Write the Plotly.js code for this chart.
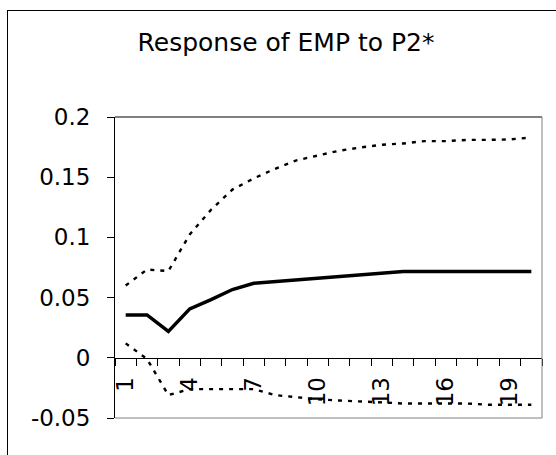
<!DOCTYPE html>
<html>
<head>
<meta charset="utf-8">
<script src="https://cdn.plot.ly/plotly-3.0.1.min.js"></script>
<style>
html, body { margin: 0; padding: 0; background: #fff; }
#wrap { position: relative; width: 556px; height: 455px; overflow: hidden; }
#chart { width: 556px; height: 455px; }
#frame { position: absolute; left: 7px; top: 10px; width: 600px; height: 500px;
         border-top: 1px solid #000; border-left: 1px solid #000; pointer-events: none; }
</style>
</head>
<body>
<div id="wrap">
  <div id="chart"></div>
  <div id="frame"></div>
</div>
<script>
// Data
var periods = [1,2,3,4,5,6,7,8,9,10,11,12,13,14,15,16,17,18,19,20];
var response = [0.0356,0.0356,0.0219,0.0406,0.0483,0.0567,0.0619,0.0633,0.0648,0.0662,
                0.0676,0.0694,0.0703,0.0717,0.0717,0.0717,0.0717,0.0717,0.0717,0.0717];
var upperBand = [0.060,0.0733,0.072,0.1025,0.123,0.1397,0.149,0.157,0.164,0.168,
                 0.172,0.1747,0.177,0.178,0.180,0.180,0.181,0.181,0.1814,0.183];
var lowerBand = [0.012,-0.001,-0.031,-0.026,-0.026,-0.026,-0.026,-0.031,-0.033,-0.0345,
                 -0.0355,-0.036,-0.037,-0.038,-0.038,-0.038,-0.038,-0.039,-0.039,-0.039];
var xTickVals = [1,4,7,10,13,16,19];
var xTickText = ['1','4','7','10','13','16','19'];
var yTickVals = [-0.05,0,0.05,0.1,0.15,0.2];
var yTickText = ['-0.05','0','0.05','0.1','0.15','0.2'];
var titleText = 'Response of EMP to P2*';

var yMin = -0.05, yMax = 0.2;
var font = 'DejaVu Sans, Arial, sans-serif';

var traces = [
  { x: periods, y: upperBand, mode: 'lines', line: { color: '#000', width: 2.4, dash: '4px,6px' }, hoverinfo: 'skip' },
  { x: periods, y: lowerBand, mode: 'lines', line: { color: '#000', width: 2.4, dash: '4px,6px' }, hoverinfo: 'skip' },
  { x: periods, y: response, mode: 'lines', line: { color: '#000', width: 3.5 }, hoverinfo: 'skip' }
];

var layout = {
  width: 556, height: 455,
  margin: { l: 115, r: 14, t: 117, b: 37, pad: 0 },
  paper_bgcolor: '#fff', plot_bgcolor: '#fff',
  showlegend: false,
  font: { family: font, color: '#000', size: 23 },
  title: { text: titleText, font: { family: font, size: 25, color: '#000' },
           xref: 'container', x: 286/556, xanchor: 'center',
           yref: 'container', y: 1 - 42/455, yanchor: 'middle' },
  xaxis: {
    range: [0.5, 20.5], anchor: 'free', position: (0 - yMin) / (yMax - yMin),
    tickmode: 'array', tickvals: xTickVals, ticktext: xTickText, tickangle: -90,
    ticks: '', showgrid: false, zeroline: false,
    showline: true, linecolor: '#000', linewidth: 1,
    ticklabelstandoff: 9,
    tickfont: { family: font, size: 23, color: '#000' },
    minor: { tickmode: 'linear', tick0: 0.5, dtick: 1, ticks: 'outside', ticklen: 7, tickcolor: '#000', tickwidth: 1, showgrid: false }
  },
  yaxis: {
    range: [yMin, yMax], tickmode: 'array', tickvals: yTickVals, ticktext: yTickText,
    ticks: 'outside', ticklen: 7, tickcolor: '#000', tickwidth: 1,
    showgrid: false, zeroline: false, showline: true, linecolor: '#000', linewidth: 1,
    ticklabelstandoff: 12,
    tickfont: { family: font, size: 23, color: '#000' }
  },
  shapes: [
    { type: 'line', xref: 'paper', yref: 'paper', x0: 0, x1: 1, y0: 1, y1: 1, line: { color: '#000', width: 1 } },
    { type: 'line', xref: 'paper', yref: 'paper', x0: 1, x1: 1, y0: 0, y1: 1, line: { color: '#808080', width: 1 } },
    { type: 'line', xref: 'paper', yref: 'paper', x0: 0, x1: 1, y0: 0, y1: 0, line: { color: '#808080', width: 1 } }
  ]
};

Plotly.newPlot('chart', traces, layout, { displayModeBar: false, staticPlot: true });
</script>
</body>
</html>
